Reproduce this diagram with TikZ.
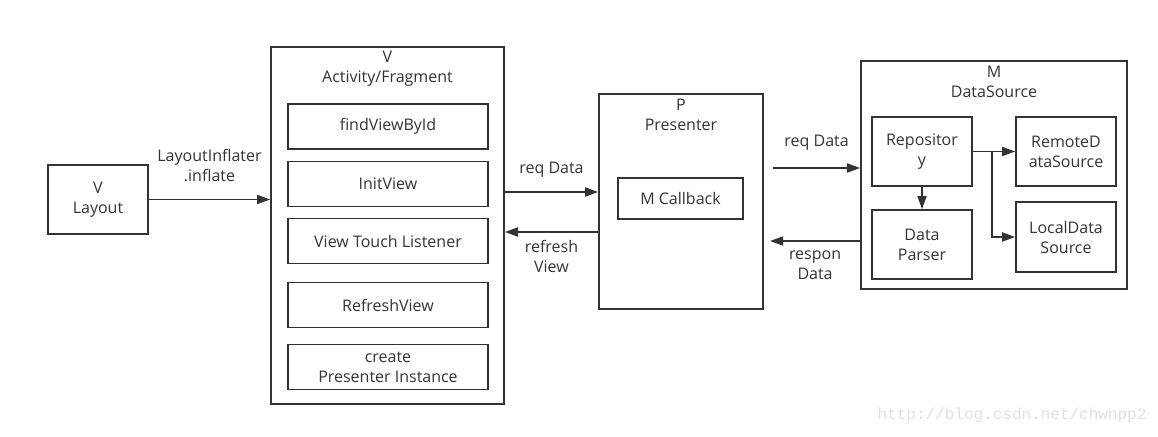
\documentclass[tikz,border=0pt]{standalone}
\usepackage{fontspec}
\setmainfont{Open Sans}
\setmonofont{Liberation Mono}
\usetikzlibrary{arrows.meta}
\definecolor{ink}{HTML}{333333}
\definecolor{mark}{HTML}{E2DEDA}
\tikzset{
  box/.style={draw=ink, line width=1.7pt, minimum width=#1, inner sep=0pt},
  box/.default=100pt,
  lbl/.style={text=ink, align=center, font=\fontsize{16}{20}\selectfont},
  arr/.style={draw=ink, line width=1.7pt, -{Triangle[length=13pt,width=9pt]}}
}
\begin{document}
\begin{tikzpicture}[x=1pt,y=-1pt]
  \useasboundingbox (0,0) rectangle (1158,436);
  % view side
  \node [box, minimum height=69pt, lbl] (layout) at (98,199.5) {V\\Layout};
  \node [box=233pt, minimum height=357pt] (vbox) at (387.5,225.5) {};
  \node [lbl] (vtitle) at (387.5,68.5) {V\\Activity/Fragment};
  \node [box=200pt, minimum height=45pt, lbl] (findview) at (388,126.5) {findViewById};
  \node [box=200pt, minimum height=45pt, lbl] (initview) at (388,184) {InitView};
  \node [box=200pt, minimum height=45pt, lbl] (touch) at (388,241) {View Touch Listener};
  \node [box=200pt, minimum height=45pt, lbl] (refresh) at (388,305) {RefreshView};
  \node [box=200pt, minimum height=45pt, lbl] (create) at (388,367) {create\\Presenter Instance};
  % presenter
  \node [box=164pt, minimum height=215pt] (pbox) at (681,201.5) {};
  \node [lbl] (ptitle) at (681,114.5) {P\\Presenter};
  \node [box=125pt, minimum height=41pt, lbl] (callback) at (680.5,198.5) {M Callback};
  % model
  \node [box=266pt, minimum height=228pt] (mbox) at (994,175) {};
  \node [lbl] (mtitle) at (994,81.5) {M\\DataSource};
  \node [box, minimum height=69pt, lbl] (repo) at (922,151.5) {Repositor\\y};
  \node [box, minimum height=69pt, lbl] (parser) at (922,244.5) {Data\\Parser};
  \node [box, minimum height=69pt, lbl] (remote) at (1066,151.5) {RemoteD\\ataSource};
  \node [box, minimum height=70pt, lbl] (local) at (1066,237) {LocalData\\Source};
  \coordinate (reqfrom) at (773,168);
  \coordinate (respto) at (770,241);
  % connectors
  \draw [arr] (layout) -- (layout -| vbox.west) node [lbl, midway, above=14pt] {LayoutInflater\\.inflate};
  \draw [arr] (vbox.east |- 0,192) -- (pbox.west |- 0,192) node [lbl, midway, above=10pt] {req Data};
  \draw [arr] (pbox.west |- 0,232) -- (vbox.east |- 0,232) node [lbl, midway, below=4pt] {refresh\\View};
  \draw [arr] (reqfrom) -- (reqfrom -| mbox.west) node [lbl, midway, above=13pt] {req Data};
  \draw [arr] (respto -| mbox.west) -- (respto) node [lbl, midway, below=6pt] {respon\\Data};
  \draw [arr] (repo) -- (parser);
  \draw [arr] (repo) -- (remote);
  \draw [arr] (repo.east -| 992,0) |- (local);
  % watermark
  \node [text=mark, font=\ttfamily\fontsize{16}{16}\selectfont, anchor=east] (url) at (1150,415) {http://blog.csdn.net/chwnpp2};
\end{tikzpicture}
\end{document}
